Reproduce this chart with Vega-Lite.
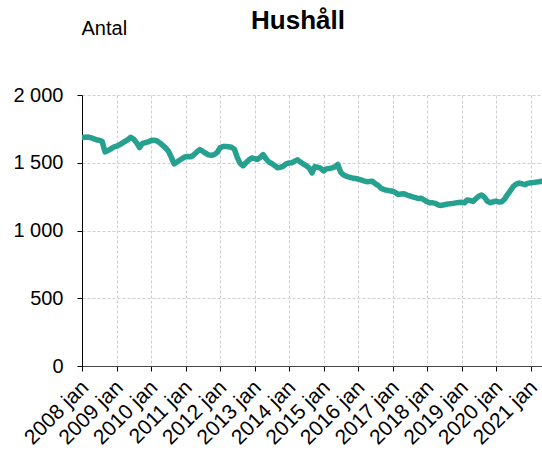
{
  "$schema": "https://vega.github.io/schema/vega-lite/v6.json",
  "autosize": "none",
  "width": 460,
  "height": 271,
  "padding": {"left": 82, "top": 95, "right": 0, "bottom": 88},
  "background": "white",
  "config": {
    "font": "Liberation Sans",
    "view": {"stroke": null},
    "axis": {"labelFont": "Liberation Sans", "titleFont": "Liberation Sans", "labelColor": "#000", "tickColor": "#000", "domainColor": "#000"}
  },
  "title": {"text": "Hushåll", "fontSize": 26, "fontWeight": "bold", "font": "Liberation Sans", "color": "#000", "anchor": "middle", "dx": -14, "offset": 0, "dy": 16},
  "data": {"values": [
    {"date": "2008/01/01", "value": 1686}, {"date": "2008/02/01", "value": 1688}, {"date": "2008/03/01", "value": 1690}, {"date": "2008/04/01", "value": 1685}, {"date": "2008/05/01", "value": 1678}, {"date": "2008/06/01", "value": 1670}, {"date": "2008/07/01", "value": 1666}, {"date": "2008/08/01", "value": 1658}, {"date": "2008/09/01", "value": 1580}, {"date": "2008/10/01", "value": 1590}, {"date": "2008/11/01", "value": 1602}, {"date": "2008/12/01", "value": 1615},
    {"date": "2009/01/01", "value": 1622}, {"date": "2009/02/01", "value": 1632}, {"date": "2009/03/01", "value": 1645}, {"date": "2009/04/01", "value": 1658}, {"date": "2009/05/01", "value": 1671}, {"date": "2009/06/01", "value": 1688}, {"date": "2009/07/01", "value": 1674}, {"date": "2009/08/01", "value": 1648}, {"date": "2009/09/01", "value": 1612}, {"date": "2009/10/01", "value": 1642}, {"date": "2009/11/01", "value": 1648}, {"date": "2009/12/01", "value": 1654},
    {"date": "2010/01/01", "value": 1664}, {"date": "2010/02/01", "value": 1666}, {"date": "2010/03/01", "value": 1662}, {"date": "2010/04/01", "value": 1648}, {"date": "2010/05/01", "value": 1630}, {"date": "2010/06/01", "value": 1612}, {"date": "2010/07/01", "value": 1588}, {"date": "2010/08/01", "value": 1545}, {"date": "2010/09/01", "value": 1492}, {"date": "2010/10/01", "value": 1505}, {"date": "2010/11/01", "value": 1520}, {"date": "2010/12/01", "value": 1533},
    {"date": "2011/01/01", "value": 1545}, {"date": "2011/02/01", "value": 1546}, {"date": "2011/03/01", "value": 1545}, {"date": "2011/04/01", "value": 1560}, {"date": "2011/05/01", "value": 1580}, {"date": "2011/06/01", "value": 1597}, {"date": "2011/07/01", "value": 1585}, {"date": "2011/08/01", "value": 1570}, {"date": "2011/09/01", "value": 1558}, {"date": "2011/10/01", "value": 1555}, {"date": "2011/11/01", "value": 1560}, {"date": "2011/12/01", "value": 1575},
    {"date": "2012/01/01", "value": 1610}, {"date": "2012/02/01", "value": 1620}, {"date": "2012/03/01", "value": 1620}, {"date": "2012/04/01", "value": 1618}, {"date": "2012/05/01", "value": 1615}, {"date": "2012/06/01", "value": 1600}, {"date": "2012/07/01", "value": 1540}, {"date": "2012/08/01", "value": 1495}, {"date": "2012/09/01", "value": 1478}, {"date": "2012/10/01", "value": 1500}, {"date": "2012/11/01", "value": 1520}, {"date": "2012/12/01", "value": 1535},
    {"date": "2013/01/01", "value": 1530}, {"date": "2013/02/01", "value": 1524}, {"date": "2013/03/01", "value": 1540}, {"date": "2013/04/01", "value": 1560}, {"date": "2013/05/01", "value": 1530}, {"date": "2013/06/01", "value": 1505}, {"date": "2013/07/01", "value": 1495}, {"date": "2013/08/01", "value": 1480}, {"date": "2013/09/01", "value": 1463}, {"date": "2013/10/01", "value": 1466}, {"date": "2013/11/01", "value": 1475}, {"date": "2013/12/01", "value": 1492},
    {"date": "2014/01/01", "value": 1499}, {"date": "2014/02/01", "value": 1500}, {"date": "2014/03/01", "value": 1512}, {"date": "2014/04/01", "value": 1522}, {"date": "2014/05/01", "value": 1505}, {"date": "2014/06/01", "value": 1490}, {"date": "2014/07/01", "value": 1478}, {"date": "2014/08/01", "value": 1462}, {"date": "2014/09/01", "value": 1425}, {"date": "2014/10/01", "value": 1472}, {"date": "2014/11/01", "value": 1466}, {"date": "2014/12/01", "value": 1460},
    {"date": "2015/01/01", "value": 1440}, {"date": "2015/02/01", "value": 1455}, {"date": "2015/03/01", "value": 1458}, {"date": "2015/04/01", "value": 1462}, {"date": "2015/05/01", "value": 1470}, {"date": "2015/06/01", "value": 1487}, {"date": "2015/07/01", "value": 1430}, {"date": "2015/08/01", "value": 1410}, {"date": "2015/09/01", "value": 1400}, {"date": "2015/10/01", "value": 1393}, {"date": "2015/11/01", "value": 1388}, {"date": "2015/12/01", "value": 1384},
    {"date": "2016/01/01", "value": 1380}, {"date": "2016/02/01", "value": 1373}, {"date": "2016/03/01", "value": 1366}, {"date": "2016/04/01", "value": 1360}, {"date": "2016/05/01", "value": 1362}, {"date": "2016/06/01", "value": 1364}, {"date": "2016/07/01", "value": 1345}, {"date": "2016/08/01", "value": 1333}, {"date": "2016/09/01", "value": 1312}, {"date": "2016/10/01", "value": 1302}, {"date": "2016/11/01", "value": 1297}, {"date": "2016/12/01", "value": 1293},
    {"date": "2017/01/01", "value": 1290}, {"date": "2017/02/01", "value": 1280}, {"date": "2017/03/01", "value": 1265}, {"date": "2017/04/01", "value": 1270}, {"date": "2017/05/01", "value": 1272}, {"date": "2017/06/01", "value": 1262}, {"date": "2017/07/01", "value": 1255}, {"date": "2017/08/01", "value": 1248}, {"date": "2017/09/01", "value": 1242}, {"date": "2017/10/01", "value": 1236}, {"date": "2017/11/01", "value": 1238}, {"date": "2017/12/01", "value": 1225},
    {"date": "2018/01/01", "value": 1212}, {"date": "2018/02/01", "value": 1204}, {"date": "2018/03/01", "value": 1204}, {"date": "2018/04/01", "value": 1200}, {"date": "2018/05/01", "value": 1188}, {"date": "2018/06/01", "value": 1185}, {"date": "2018/07/01", "value": 1190}, {"date": "2018/08/01", "value": 1195}, {"date": "2018/09/01", "value": 1197}, {"date": "2018/10/01", "value": 1200}, {"date": "2018/11/01", "value": 1204}, {"date": "2018/12/01", "value": 1207},
    {"date": "2019/01/01", "value": 1209}, {"date": "2019/02/01", "value": 1205}, {"date": "2019/03/01", "value": 1225}, {"date": "2019/04/01", "value": 1222}, {"date": "2019/05/01", "value": 1215}, {"date": "2019/06/01", "value": 1235}, {"date": "2019/07/01", "value": 1252}, {"date": "2019/08/01", "value": 1262}, {"date": "2019/09/01", "value": 1245}, {"date": "2019/10/01", "value": 1215}, {"date": "2019/11/01", "value": 1205}, {"date": "2019/12/01", "value": 1212},
    {"date": "2020/01/01", "value": 1217}, {"date": "2020/02/01", "value": 1210}, {"date": "2020/03/01", "value": 1212}, {"date": "2020/04/01", "value": 1232}, {"date": "2020/05/01", "value": 1265}, {"date": "2020/06/01", "value": 1295}, {"date": "2020/07/01", "value": 1325}, {"date": "2020/08/01", "value": 1342}, {"date": "2020/09/01", "value": 1350}, {"date": "2020/10/01", "value": 1345}, {"date": "2020/11/01", "value": 1338}, {"date": "2020/12/01", "value": 1348},
    {"date": "2021/01/01", "value": 1352}, {"date": "2021/02/01", "value": 1354}, {"date": "2021/03/01", "value": 1357}, {"date": "2021/04/01", "value": 1360}, {"date": "2021/05/01", "value": 1364}
  ]},
  "mark": {"type": "line", "color": "#26a08f", "strokeWidth": 5.5, "strokeJoin": "round", "strokeCap": "round", "clip": true},
  "encoding": {
    "x": {
      "field": "date", "type": "temporal",
      "scale": {"domain": ["2008/01/01", "2021/05/01"]},
      "axis": {
        "title": null,
        "tickCount": {"interval": "year", "step": 1},
        "labelExpr": "timeFormat(datum.value, '%Y') + ' jan'",
        "labelAngle": -45, "labelAlign": "right", "labelBaseline": "middle",
        "labelFontSize": 21, "labelPadding": 13, "labelOffset": 3, "labelOverlap": false, "labelBound": false, "labelFlush": false,
        "tickSize": 5, "domainColor": "#444",
        "grid": true, "gridColor": "#cfcfcf", "gridDash": [3, 2], "gridWidth": 1
      }
    },
    "y": {
      "field": "value", "type": "quantitative",
      "scale": {"domain": [0, 2000], "nice": false},
      "axis": {
        "title": "Antal", "titleAngle": 0, "titleAlign": "left", "titleBaseline": "alphabetic",
        "titleX": -1, "titleY": -61, "titleFontSize": 20, "titleFontWeight": "normal", "titleColor": "#000",
        "values": [0, 500, 1000, 1500, 2000],
        "labelExpr": "replace(format(datum.value, ','), ',', ' ')",
        "labelFontSize": 20, "labelPadding": 14, "tickSize": 5,
        "grid": true, "gridColor": "#cfcfcf", "gridDash": [3, 2], "gridWidth": 1
      }
    }
  }
}
